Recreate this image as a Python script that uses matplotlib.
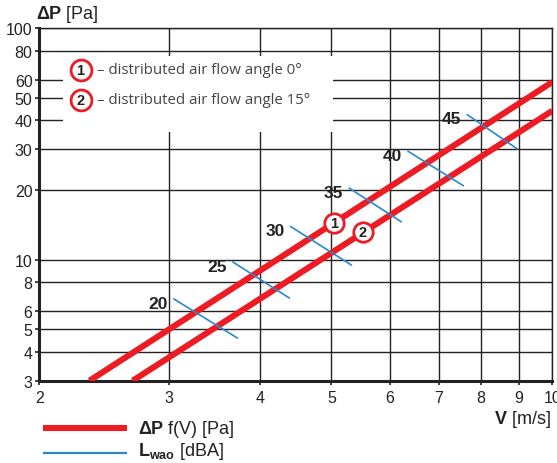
import matplotlib
matplotlib.use('Agg')
import matplotlib.pyplot as plt
from matplotlib.lines import Line2D
from matplotlib.patches import Rectangle

plt.rcParams['font.family'] = ['Liberation Sans', 'DejaVu Sans']
plt.rcParams['mathtext.fontset'] = 'custom'
plt.rcParams['mathtext.rm'] = 'Liberation Sans'
plt.rcParams['mathtext.bf'] = 'Liberation Sans:bold'

RED = '#ed1c24'
BLUE = '#2b87cc'

# pressure drop curves, angle 0 deg (1) and 15 deg (2)
v_curve1 = [2.34, 10.0]
p_curve1 = [3.0, 58.6]
v_curve2 = [2.68, 10.0]
p_curve2 = [3.0, 44.0]

# curve markers
marker_v = [5.04, 5.52]
marker_p = [14.4, 13.2]
marker_txt = ['1', '2']

# sound level segments
lwao_labels = ['20', '25', '30', '35', '40', '45']
lwao_v0 = [3.05, 3.67, 4.40, 5.29, 6.36, 7.66]
lwao_p0 = [6.76, 9.77, 13.9, 20.35, 29.4, 42.3]
lwao_v1 = [3.72, 4.38, 5.32, 6.22, 7.56, 8.96]
lwao_p1 = [4.59, 6.83, 9.49, 14.6, 20.9, 30.1]

x_ticks = [2, 3, 4, 5, 6, 7, 8, 9, 10]
y_ticks = [3, 4, 5, 6, 8, 10, 20, 30, 40, 50, 60, 80, 100]

fig = plt.figure(figsize=(5.57, 4.64), dpi=100)
ax = fig.add_axes([0.0709, 0.1774, 0.9207, 0.7595])
ax.set_xscale('log')
ax.set_yscale('log')
ax.set_xlim(2, 10)
ax.set_ylim(3, 100)

ax.xaxis.set_major_locator(matplotlib.ticker.FixedLocator(x_ticks))
ax.xaxis.set_minor_locator(matplotlib.ticker.NullLocator())
ax.yaxis.set_major_locator(matplotlib.ticker.FixedLocator(y_ticks))
ax.yaxis.set_minor_locator(matplotlib.ticker.NullLocator())
ax.set_xticklabels([str(t) for t in x_ticks])
ax.set_yticklabels([str(t) for t in y_ticks])
ax.tick_params(axis='both', labelsize=11.5, length=3, width=1.2, color='#222',
               labelcolor='#222', pad=2)
ax.tick_params(axis='x', pad=4)

ax.grid(True, color='#222', linewidth=1.0, zorder=0)
ax.set_axisbelow(True)
for s in ['top', 'right']:
    ax.spines[s].set_linewidth(1.0)
    ax.spines[s].set_color('#222')
for s in ['left', 'bottom']:
    ax.spines[s].set_linewidth(2.2)
    ax.spines[s].set_color('#222')

# white box for the curve key
ax.add_patch(Rectangle((0.046, 0.706), 0.526, 0.215, transform=ax.transAxes,
                       facecolor='white', edgecolor='none', zorder=1.5))

ax.plot(v_curve1, p_curve1, color=RED, lw=4.4, solid_capstyle='butt', zorder=3)
ax.plot(v_curve2, p_curve2, color=RED, lw=4.4, solid_capstyle='butt', zorder=3)

for i in range(len(lwao_labels)):
    ax.plot([lwao_v0[i], lwao_v1[i]], [lwao_p0[i], lwao_p1[i]], color=BLUE, lw=1.2, zorder=4)
    ax.annotate(lwao_labels[i], (lwao_v0[i], lwao_p0[i]), xytext=(-6, -4),
                textcoords='offset pixels', ha='right', va='center',
                fontsize=12.5, fontweight='bold', color='#222', zorder=5)

for v, p, t in zip(marker_v, marker_p, marker_txt):
    ax.plot(v, p, 'o', ms=14, mfc='white', mec=RED, mew=2.0, zorder=6)
    ax.text(v, p, t, ha='center', va='center', fontsize=10.5, fontweight='bold',
            color='#222', zorder=7)

# key inside the box
key_y = [0.882, 0.797]
key_txt = ['– distributed air flow angle 0°', '– distributed air flow angle 15°']
for y, n, t in zip(key_y, marker_txt, key_txt):
    ax.plot(0.08, y, 'o', ms=15, mfc='white', mec=RED, mew=2.0,
            transform=ax.transAxes, zorder=6, clip_on=False)
    ax.text(0.08, y, n, transform=ax.transAxes, ha='center', va='center',
            fontsize=10.5, fontweight='bold', color='#222', zorder=7)
    ax.text(0.112, y, t, transform=ax.transAxes, ha='left', va='center',
            fontsize=10.8, color='#444', family=['Open Sans', 'DejaVu Sans'], zorder=7)

# axis titles
fig.text(0.064, 0.968, r'$\mathbf{\Delta P}$ [Pa]', fontsize=13, ha='left',
         va='center', color='#222')
fig.text(0.988, 0.095, r'$\mathbf{V}$ [m/s]', fontsize=13, ha='right',
         va='center', color='#222')

# bottom legend
fig.add_artist(Line2D([0.077, 0.228], [0.0754, 0.0754], color=RED, lw=4.4,
                      solid_capstyle='butt'))
fig.add_artist(Line2D([0.077, 0.228], [0.0216, 0.0216], color=BLUE, lw=1.6,
                      solid_capstyle='butt'))
fig.text(0.248, 0.0754, r'$\mathbf{\Delta P}$ f(V) [Pa]', fontsize=13, ha='left',
         va='center', color='#222')
fig.text(0.248, 0.028, r'$\mathbf{L_{wao}}$ [dBA]', fontsize=13, ha='left',
         va='center', color='#222')

fig.savefig('out.png', dpi=100)
